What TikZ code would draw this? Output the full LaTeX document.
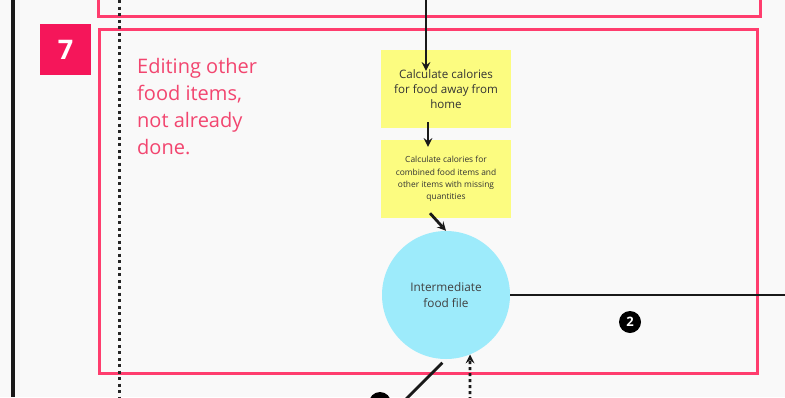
\documentclass[tikz,border=0pt]{standalone}
\usepackage{fontspec}
\setmainfont{Open Sans}
\usetikzlibrary{positioning}
\definecolor{pinkline}{HTML}{FF3D6E}
\definecolor{pinktext}{HTML}{F2456F}
\definecolor{pinkbox}{HTML}{F5165A}
\definecolor{note}{HTML}{FCFC80}
\definecolor{store}{HTML}{9DEBFB}
\definecolor{paper}{HTML}{F9F9F9}
\begin{document}
\begin{tikzpicture}[x=1pt, y=-1pt, node distance = {90pt}, >=stealth,
	step box/.style = {fill=note, minimum width=130pt, minimum height=78pt, align=center, text=black!80, inner sep=2pt},
	data file/.style = {circle, fill=store, minimum size=128pt, align=center, text=black!75, inner sep=0pt},
	badge/.style = {circle, fill=black, text=white, minimum size=22pt, inner sep=0pt, font=\bfseries\fontsize{13}{13}\selectfont},
	frame/.style = {draw=pinkline, line width=3pt},
	flow/.style = {->, line width=2.8pt, black!90}]
	\useasboundingbox (0,0) rectangle (785,397);
	\fill[paper] (0,0) rectangle (785,397);
	\clip (0,0) rectangle (785,397);
	\draw[line width=3.5pt, black!90] (13,0) -- (13,397);
	\draw[frame] (98,-10) rectangle (760,16);
	\draw[frame] (99,29) rectangle (757,373);
	\draw[line width=3pt, black!85, dash pattern=on 3pt off 3.5pt] (119,0) -- (119,397);
	\node[fill=pinkbox, text=white, minimum size=51pt, inner sep=0pt, font=\bfseries\fontsize{27}{27}\selectfont] (seven) at (65.5,49.5) {7};
	\node[anchor=north west, text=pinktext, align=left, font=\fontsize{20}{27}\selectfont, inner sep=0pt] (title) at (137,58) {Editing other\\food items,\\not already\\done.};
	\node[step box, font=\fontsize{11.6}{15}\selectfont] (away) at (446,89) {Calculate calories\\for food away from\\home};
	\node[step box, font=\fontsize{8.4}{12.4}\selectfont] (combined) [below of=away] {Calculate calories for\\combined food items and\\other items with missing\\quantities};
	\node[data file, font=\fontsize{11.8}{15.5}\selectfont] (file) at (446,295) {Intermediate\\food file};
	\node[badge] (two) at (630,322) {2};
	\node[badge] (three) at (380,403) {};
	\coordinate (topin) at (426,-5);
	\coordinate (rightout) at (790,295);
	\coordinate (lowout) at (400,405);
	\coordinate (botin) at (470,400);
	\draw[flow] (topin) -- ([xshift=-20pt,yshift=-21pt]away.north);
	\draw[flow] ([xshift=-18pt,yshift=6pt]away.south) -- ([xshift=-18pt,yshift=-7pt]combined.north);
	\draw[flow] ([xshift=-16pt,yshift=5pt]combined.south) -- (file.north);
	\draw[line width=2.8pt, black!90] (file.east) -- (rightout);
	\draw[line width=2.8pt, black!90, shorten <=5pt] (file.south) -- (lowout);
	\draw[->, line width=2.8pt, black!90, dash pattern=on 3pt off 3pt] (botin) -- (file.-68);
\end{tikzpicture}
\end{document}
